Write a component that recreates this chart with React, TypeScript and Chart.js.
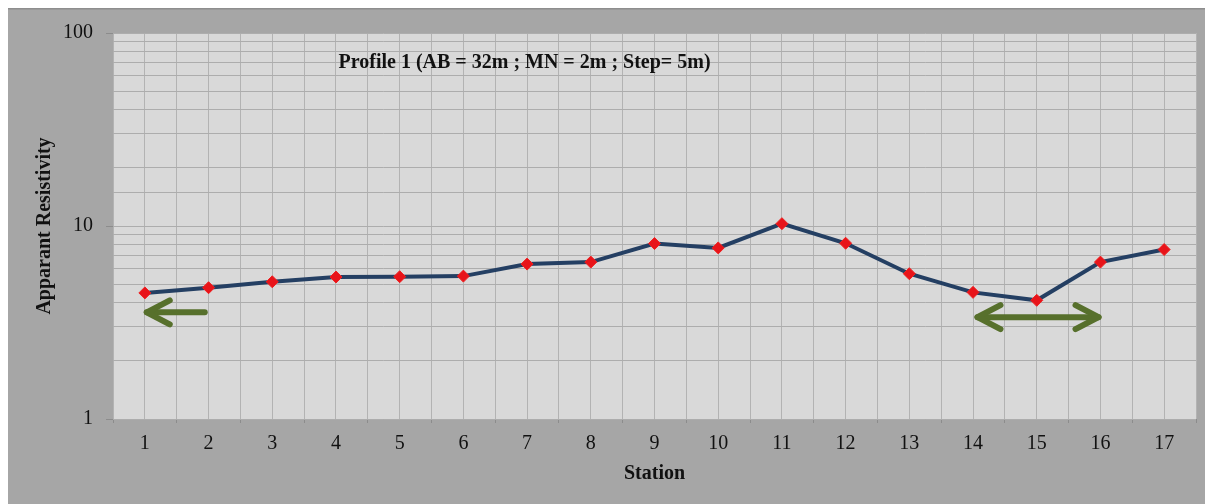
import { useEffect, useRef } from "react";
import { Chart, registerables } from "chart.js";

Chart.register(...registerables);

// Survey stations along the profile and their apparent resistivity readings
const stations = [1, 2, 3, 4, 5, 6, 7, 8, 9, 10, 11, 12, 13, 14, 15, 16, 17];
const resistivity = [4.5, 4.79, 5.14, 5.44, 5.46, 5.5, 6.35, 6.5, 8.11, 7.7, 10.28, 8.14, 5.66, 4.53, 4.12, 6.5, 7.55];

// Labelled decades on the logarithmic axis
const yMajorTicks = [1, 10, 100];

const profileTitle = "Profile 1 (AB = 32m ; MN = 2m ; Step= 5m)";
const titleAnchorX = 6.96;
const titleAnchorY = 70;

// Green arrows marking zones of interest (station, resistivity units)
const arrowStartX = [1.94, 14.07];
const arrowEndX = [1.03, 15.97];
const arrowLevel = [3.57, 3.37];
const arrowDoubleHeaded = [false, true];

const SERIF = "'Liberation Serif', 'Times New Roman', serif";

const backgroundPlugin = {
  id: "panelBackground",
  beforeDraw(chart: any) {
    const { ctx, width, height, chartArea } = chart;
    ctx.save();
    ctx.fillStyle = "#a6a6a6";
    ctx.fillRect(0, 0, width, height);
    ctx.fillStyle = "#8e8e8e";
    ctx.fillRect(0, 0, width, 1.5);
    ctx.fillRect(0, 0, 1.5, height);
    ctx.fillStyle = "#d9d9d9";
    ctx.fillRect(chartArea.left, chartArea.top, chartArea.right - chartArea.left, chartArea.bottom - chartArea.top);
    ctx.restore();
  },
};

const drawHead = (ctx: any, tipX: number, y: number, dir: number) => {
  ctx.beginPath();
  ctx.moveTo(tipX + dir * 23, y - 12);
  ctx.lineTo(tipX, y);
  ctx.lineTo(tipX + dir * 23, y + 12);
  ctx.stroke();
};

const overlayPlugin = {
  id: "profileOverlay",
  afterDatasetsDraw(chart: any) {
    const { ctx, scales } = chart;
    const xs = scales.x;
    const ys = scales.y;
    ctx.save();
    // Profile caption inside the plot
    ctx.font = `bold 20px ${SERIF}`;
    ctx.fillStyle = "#111111";
    ctx.textAlign = "center";
    ctx.textBaseline = "middle";
    ctx.fillText(profileTitle, xs.getPixelForValue(titleAnchorX), ys.getPixelForValue(titleAnchorY));

    // Arrows
    ctx.strokeStyle = "#57702c";
    ctx.lineWidth = 6;
    ctx.lineCap = "round";
    ctx.lineJoin = "round";
    for (let i = 0; i < arrowStartX.length; i++) {
      const x1 = xs.getPixelForValue(arrowStartX[i]);
      const x2 = xs.getPixelForValue(arrowEndX[i]);
      const y = ys.getPixelForValue(arrowLevel[i]);
      ctx.beginPath();
      ctx.moveTo(x1, y);
      ctx.lineTo(x2, y);
      ctx.stroke();
      const dirEnd = x2 < x1 ? 1 : -1;
      drawHead(ctx, x2, y, dirEnd);
      if (arrowDoubleHeaded[i]) drawHead(ctx, x1, y, -dirEnd);
    }
    ctx.restore();
  },
};

export default function App() {
  const canvasRef = useRef<HTMLCanvasElement | null>(null);

  useEffect(() => {
    if (!canvasRef.current) return;
    const chart = new Chart(canvasRef.current, {
      type: "line",
      data: {
        datasets: [
          {
            data: stations.map((s, i) => ({ x: s, y: resistivity[i] })),
            borderColor: "#243f63",
            borderWidth: 4,
            pointStyle: "rectRot",
            pointRadius: 6,
            pointBackgroundColor: "#e8141a",
            pointBorderColor: "#f02020",
            pointBorderWidth: 1,
            tension: 0,
          },
        ],
      },
      options: {
        responsive: false,
        animation: false,
        layout: { padding: { left: 0, top: 23, right: 17, bottom: 0 } },
        plugins: {
          legend: { display: false },
          tooltip: { enabled: false },
        },
        scales: {
          x: {
            type: "linear",
            min: 0.5,
            max: 17.5,
            afterFit(scale: any) {
              scale.height = 85;
            },
            ticks: {
              stepSize: 0.5,
              autoSkip: false,
              maxRotation: 0,
              padding: 9,
              color: "#111111",
              font: { family: SERIF, size: 20 },
              callback: (v: any) => (Number.isInteger(Number(v)) && v >= 1 && v <= 17 ? String(v) : ""),
            },
            grid: {
              color: "#b3b3b3",
              lineWidth: 1,
              tickLength: 4,
              tickColor: (c: any) => (c.tick && !Number.isInteger(c.tick.value) ? "#8c8c8c" : "rgba(0,0,0,0)"),
            },
            border: { display: false },
            title: {
              display: true,
              text: "Station",
              color: "#111111",
              font: { family: SERIF, size: 20, weight: "bold" },
              padding: { top: 4, bottom: 18 },
            },
          },
          y: {
            type: "logarithmic",
            min: 1,
            max: 100,
            afterFit(scale: any) {
              scale.width = 107;
            },
            ticks: {
              autoSkip: false,
              padding: 13,
              color: "#111111",
              font: { family: SERIF, size: 20 },
              callback: (v: any) => (yMajorTicks.includes(Number(v)) ? String(v) : ""),
            },
            grid: {
              color: "#adadad",
              lineWidth: 1,
              tickLength: 7,
              tickColor: (c: any) => (c.tick && yMajorTicks.includes(c.tick.value) ? "#8c8c8c" : "rgba(0,0,0,0)"),
            },
            border: { display: false },
            title: {
              display: true,
              text: "Apparant Resistivity",
              color: "#111111",
              font: { family: SERIF, size: 20, weight: "bold" },
              padding: { top: 27, bottom: 4 },
            },
          },
        },
      } as any,
      plugins: [backgroundPlugin, overlayPlugin],
    });
    return () => chart.destroy();
  }, []);

  return (
    <canvas
      ref={canvasRef}
      width={1207}
      height={496}
      style={{ display: "block", marginLeft: -2 }}
    />
  );
}
